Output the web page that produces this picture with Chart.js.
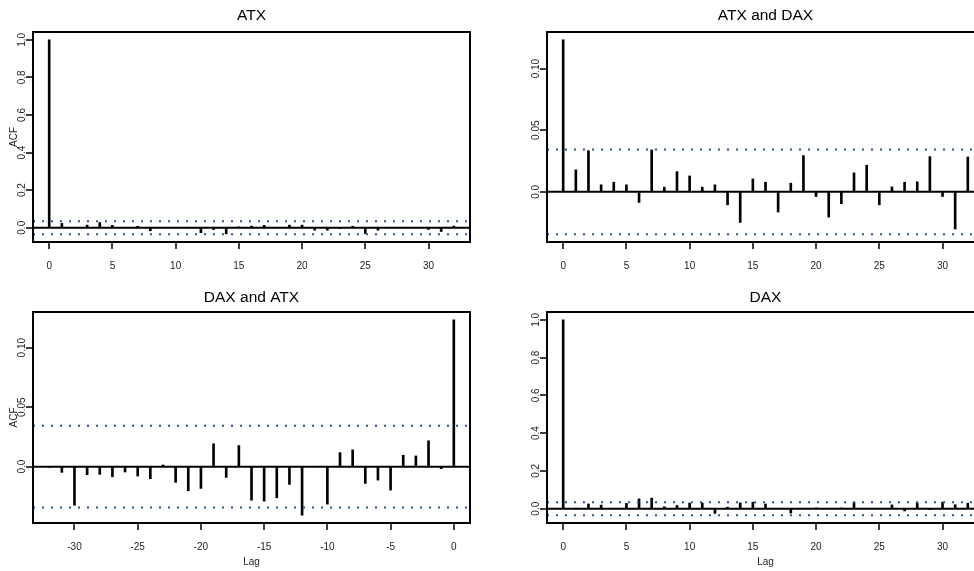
<!DOCTYPE html>
<html><head><meta charset="utf-8">
<script src="https://cdn.jsdelivr.net/npm/chart.js@4.4.0/dist/chart.umd.min.js"></script>
<style>
html,body{margin:0;padding:0;background:#fff;width:974px;height:571px;overflow:hidden;position:relative;}
canvas{position:absolute;display:block;}
</style></head><body>
<canvas id="c1" width="487" height="286" style="left:0;top:0"></canvas>
<canvas id="c2" width="510" height="286" style="left:487px;top:0"></canvas>
<canvas id="c3" width="487" height="285" style="left:0;top:286px"></canvas>
<canvas id="c4" width="510" height="285" style="left:487px;top:286px"></canvas>
<script>
const FONT = "'Liberation Sans', Arial, Helvetica, sans-serif";

const lagsPos = [0,1,2,3,4,5,6,7,8,9,10,11,12,13,14,15,16,17,18,19,20,21,22,23,24,25,26,27,28,29,30,31,32];
const lagsNeg = [-32,-31,-30,-29,-28,-27,-26,-25,-24,-23,-22,-21,-20,-19,-18,-17,-16,-15,-14,-13,-12,-11,-10,-9,-8,-7,-6,-5,-4,-3,-2,-1,0];
const ciLevel = 0.0344;

const atxAcf = [1.0,0.023,0.002,0.014,0.028,0.013,0.001,0.008,-0.016,0.0,0.001,-0.001,-0.026,-0.010,-0.032,0.005,0.009,0.013,0.001,0.014,0.014,-0.013,-0.013,-0.005,0.008,-0.031,-0.013,0.0,-0.001,0.002,-0.009,-0.020,0.009];
const atxDaxCcf = [0.1234,0.0178,0.0334,0.0057,0.0078,0.0057,-0.0086,0.034,0.0038,0.0164,0.0129,0.0038,0.0057,-0.0105,-0.0248,0.0105,0.0078,-0.0164,0.007,0.0294,-0.0038,-0.0205,-0.0097,0.0154,0.0216,-0.0105,0.004,0.0078,0.0081,0.0286,-0.0038,-0.0302,0.0283];
const daxAtxCcf = [-0.0005,-0.0048,-0.0324,-0.0068,-0.0065,-0.0085,-0.0045,-0.0079,-0.0101,0.0014,-0.0132,-0.0203,-0.0183,0.0192,-0.009,0.0177,-0.0282,-0.029,-0.0262,-0.0149,-0.0408,0.0003,-0.0315,0.0118,0.0141,-0.0141,-0.0113,-0.0197,0.0096,0.009,0.0217,-0.0017,0.1234];
const daxAcf = [1.0,0.003,0.025,0.019,0.002,0.028,0.052,0.056,0.010,0.017,0.030,0.030,-0.025,0.008,0.031,0.034,0.025,0.001,-0.023,0.001,0.004,0.001,0.004,0.034,0.001,0.0,0.020,-0.012,0.029,-0.005,0.034,0.021,0.029];

const xTicksPos = [0,5,10,15,20,25,30];
const xLabelsPos = ["0","5","10","15","20","25","30"];
const xTicksNeg = [-30,-25,-20,-15,-10,-5,0];
const xLabelsNeg = ["-30","-25","-20","-15","-10","-5","0"];
const yTicksAcf = [0,0.2,0.4,0.6,0.8,1.0];
const yLabelsAcf = ["0.0","0.2","0.4","0.6","0.8","1.0"];
const yTicksCcf = [0,0.05,0.10];
const yLabelsCcf = ["0.0","0.05","0.10"];

function pad4(lo, hi){ const r = hi - lo; return [lo - 0.04*r, hi + 0.04*r]; }

function makePanel(c){
  const [xmin, xmax] = pad4(Math.min(...c.lags), Math.max(...c.lags));
  const [ymin, ymax] = pad4(Math.min(...c.values, -ciLevel), Math.max(...c.values, ciLevel));
  const pts = c.lags.map((l,i)=>({x:l, y:c.values[i]}));
  const hline = v => [{x:xmin,y:v},{x:xmax,y:v}];
  const ciStyle = {type:'line', borderColor:'#2455a4', borderWidth:2, borderDash:[2,7], pointRadius:0, fill:false};
  new Chart(document.getElementById(c.id), {
    type:'bar',
    data:{datasets:[
      Object.assign({data:hline(ciLevel)}, ciStyle),
      Object.assign({data:hline(-ciLevel)}, ciStyle),
      {type:'line', data:hline(0), borderColor:'#000', borderWidth:2, pointRadius:0, fill:false},
      {type:'bar', data:pts, backgroundColor:'#000', barThickness:2, grouped:false, borderWidth:0}
    ]},
    options:{
      responsive:false, animation:false, events:[],
      layout:{padding:{left:c.area.left-10, top:c.area.top, right:c.W-c.area.right, bottom:0}},
      plugins:{legend:{display:false}, tooltip:{enabled:false}, title:{display:false}},
      scales:{
        x:{type:'linear', min:xmin, max:xmax, offset:false,
          afterBuildTicks:s=>{ s.ticks = c.xTicks.map(v=>({value:v})); },
          afterFit:s=>{ s.height = c.H - c.area.bottom; },
          grid:{display:false, offset:false, drawTicks:true, tickLength:7}, border:{display:false},
          ticks:{autoSkip:false, maxRotation:0, minRotation:0, padding:11, color:'#222',
                 font:{family:FONT, size:10}, callback:(v,i)=>c.xLabels[i]}},
        y:{type:'linear', min:ymin, max:ymax,
          afterBuildTicks:s=>{ s.ticks = c.yTicks.map(v=>({value:v})); },
          afterFit:s=>{ s.width = 10; },
          grid:{display:false}, border:{display:false},
          ticks:{display:false}}
      }
    },
    plugins:[{id:'deco', afterDraw(ch){
      const ctx = ch.ctx, a = ch.chartArea;
      const xs = ch.scales.x, ys = ch.scales.y;
      ctx.save();
      ctx.strokeStyle = '#000'; ctx.lineWidth = 2;
      ctx.strokeRect(a.left, a.top, a.right - a.left, a.bottom - a.top);
      ctx.lineWidth = 1.5;
      ctx.beginPath();
      c.xTicks.forEach(v=>{ const px = Math.round(xs.getPixelForValue(v)); ctx.moveTo(px, a.bottom); ctx.lineTo(px, a.bottom + 7); });
      c.yTicks.forEach(v=>{ const py = Math.round(ys.getPixelForValue(v)); ctx.moveTo(a.left, py); ctx.lineTo(a.left - 7, py); });
      ctx.stroke();
      ctx.fillStyle = '#222'; ctx.font = '10px ' + FONT;
      ctx.textAlign = 'center'; ctx.textBaseline = 'middle';
      c.yTicks.forEach((v,i)=>{
        const py = ys.getPixelForValue(v);
        ctx.save(); ctx.translate(a.left - 10.5, py); ctx.rotate(-Math.PI/2);
        ctx.fillText(c.yLabels[i], 0, 0); ctx.restore();
      });
      ctx.fillStyle = '#000'; ctx.font = '15.5px ' + FONT;
      ctx.fillText(c.title, (a.left + a.right)/2, c.titleY);
      ctx.fillStyle = '#222'; ctx.font = '10px ' + FONT;
      if (c.ylab){
        ctx.save(); ctx.translate(14, (a.top + a.bottom)/2); ctx.rotate(-Math.PI/2);
        ctx.fillText('ACF', 0, 0); ctx.restore();
      }
      if (c.xlab){ ctx.fillText('Lag', (a.left + a.right)/2, c.xlabY); }
      ctx.restore();
    }}]
  });
}

makePanel({id:'c1', W:487, H:286, area:{left:33, top:32, right:470, bottom:242},
  lags:lagsPos, values:atxAcf, title:'ATX', titleY:16, ylab:true, xlab:false,
  xTicks:xTicksPos, xLabels:xLabelsPos, yTicks:yTicksAcf, yLabels:yLabelsAcf});
makePanel({id:'c2', W:510, H:286, area:{left:60, top:32, right:497, bottom:242},
  lags:lagsPos, values:atxDaxCcf, title:'ATX and DAX', titleY:16, ylab:false, xlab:false,
  xTicks:xTicksPos, xLabels:xLabelsPos, yTicks:yTicksCcf, yLabels:yLabelsCcf});
makePanel({id:'c3', W:487, H:285, area:{left:33, top:26, right:470, bottom:237},
  lags:lagsNeg, values:daxAtxCcf, title:'DAX and ATX', titleY:12, ylab:true, xlab:true, xlabY:276,
  xTicks:xTicksNeg, xLabels:xLabelsNeg, yTicks:yTicksCcf, yLabels:yLabelsCcf});
makePanel({id:'c4', W:510, H:285, area:{left:60, top:26, right:497, bottom:237},
  lags:lagsPos, values:daxAcf, title:'DAX', titleY:12, ylab:false, xlab:true, xlabY:276,
  xTicks:xTicksPos, xLabels:xLabelsPos, yTicks:yTicksAcf, yLabels:yLabelsAcf});
</script>
</body></html>
